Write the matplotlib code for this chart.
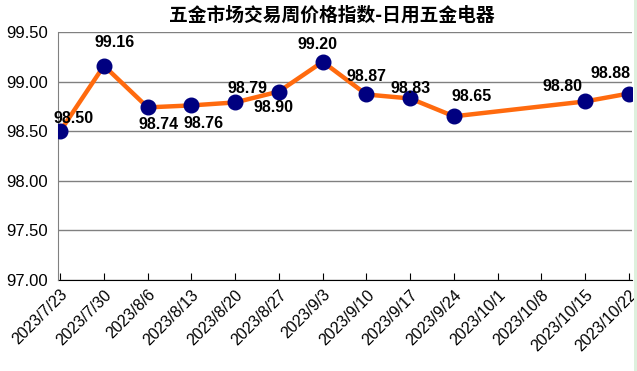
import numpy as np
import matplotlib
matplotlib.use("Agg")
import matplotlib.pyplot as plt
from matplotlib.patches import Rectangle

plt.rcParams["font.family"] = ["Liberation Sans", "Noto Sans CJK SC", "DejaVu Sans"]

title = "五金市场交易周价格指数-日用五金电器"
dates = ["2023/7/23", "2023/7/30", "2023/8/6", "2023/8/13", "2023/8/20", "2023/8/27",
         "2023/9/3", "2023/9/10", "2023/9/17", "2023/9/24", "2023/10/1", "2023/10/8",
         "2023/10/15", "2023/10/22"]
values = [98.50, 99.16, 98.74, 98.76, 98.79, 98.90, 99.20, 98.87, 98.83, 98.65,
          np.nan, np.nan, 98.80, 98.88]
y_ticks = [97.0, 97.5, 98.0, 98.5, 99.0, 99.5]

# label offsets in pixels, one per valid point
label_offsets = [(13, 13), (11, 23), (11, -17), (12, -18), (12, 14), (-5, -16),
                 (-5, 17), (0, 18), (0, 10), (18, 20), (-23, 15), (-18, 20)]

fig = plt.figure(figsize=(6.37, 3.71), dpi=100, facecolor="white")
fig.patches.append(Rectangle((634 / 637, 0), 3 / 637, 1, transform=fig.transFigure,
                             facecolor="#DDF0DD", edgecolor="none"))
ax = fig.add_axes([58 / 637, 1 - 280 / 371, (632 - 58) / 637, (280 - 32) / 371])

x = np.arange(len(dates))
vals = np.array(values, dtype=float)
ok = ~np.isnan(vals)
xv, yv = x[ok], vals[ok]

ax.plot(xv, yv, color="#FF6A0E", linewidth=3.2, zorder=3, solid_joinstyle="round")
ax.plot(xv, yv, linestyle="none", marker="o", markersize=10.5,
        markerfacecolor="#000080", markeredgecolor="#000080", zorder=4)

for (xi, yi), (dx, dy) in zip(zip(xv, yv), label_offsets):
    ax.annotate(f"{yi:.2f}", (xi, yi), xytext=(dx, dy), textcoords="offset pixels",
                ha="center", va="center", fontsize=11.5, fontweight="bold",
                color="black", zorder=5)

ax.set_xlim(-0.05, 13.07)
ax.set_ylim(97.0, 99.5)
ax.set_yticks(y_ticks)
ax.set_yticklabels([f"{t:.2f}" for t in y_ticks], fontsize=12)
ax.set_xticks(x)
ax.set_xticklabels(dates, rotation=45, ha="right", rotation_mode="anchor", fontsize=11.5)
ax.tick_params(axis="y", length=0, pad=7)
ax.tick_params(axis="x", direction="in", length=5, color="black", pad=5)

ax.grid(axis="y", color="#808080", linewidth=1)
ax.set_axisbelow(True)
for side in ("top", "right"):
    ax.spines[side].set_visible(False)
ax.spines["left"].set_color("#808080")
ax.spines["bottom"].set_color("black")
ax.spines["bottom"].set_zorder(2)

fig.text(332 / 637, 1 - 15 / 371, title, ha="center", va="center", fontsize=13.5,
         fontweight="bold", family=["Noto Sans CJK SC", "DejaVu Sans"])

fig.savefig("out.png", dpi=100, facecolor="white")
